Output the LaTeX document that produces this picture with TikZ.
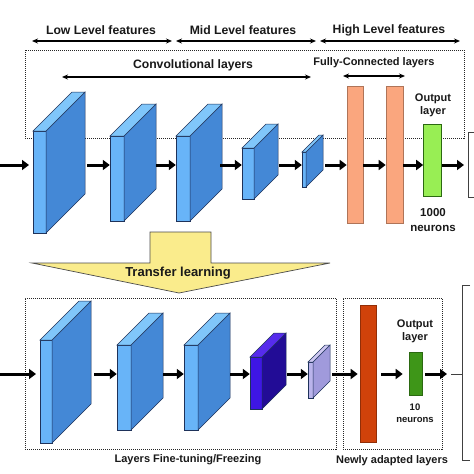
\documentclass[tikz,border=0pt]{standalone}
\usepackage{fontspec}
\setmainfont{Liberation Sans}
\usetikzlibrary{fit,calc,arrows.meta}
\definecolor{cfront}{RGB}{104,180,248}
\definecolor{cside}{RGB}{68,136,214}
\definecolor{ctop}{RGB}{128,198,250}
\definecolor{cedge}{RGB}{30,50,90}
\definecolor{pfront}{RGB}{62,22,228}
\definecolor{pside}{RGB}{34,12,150}
\definecolor{ptop}{RGB}{86,44,236}
\definecolor{lfront}{RGB}{186,180,236}
\definecolor{lside}{RGB}{160,154,220}
\definecolor{ltop}{RGB}{206,200,242}
\definecolor{fcorange}{RGB}{250,166,126}
\definecolor{outgreen}{RGB}{152,238,84}
\definecolor{redbar}{RGB}{208,66,10}
\definecolor{dkgreen}{RGB}{62,150,24}
\definecolor{tlyellow}{RGB}{250,236,140}
\tikzset{
  arr/.style={-{Triangle[length=7pt,width=10pt]},line width=3pt,black},
  dbl/.style={{Stealth[length=6pt,width=5pt]}-{Stealth[length=6pt,width=5pt]},line width=1.4pt,black},
  dotbox/.style={draw=black!85,line width=1pt,dash pattern=on 1pt off 1pt},
  lbl/.style={font=\bfseries\fontsize{12.2}{13}\selectfont,text=black!90,inner sep=0pt},
  slbl/.style={font=\bfseries\fontsize{11}{13}\selectfont,text=black!90,inner sep=0pt,align=center},
  bar/.style={draw=#1!70!black,line width=0.6pt,inner sep=0pt},
  brk/.style={draw=black!75,line width=0.8pt}
}
% cuboid: name, x1, x2, ytop, ybot, depth, front, side, top
\newcommand\mycub[9]{%
  \fill[#7,draw=cedge,line width=0.5pt] (#2,#4) rectangle (#3,#5);
  \fill[#8,draw=cedge,line width=0.5pt] (#3,#4) -- (#3+#6,#4-#6) -- (#3+#6,#5-#6) -- (#3,#5) -- cycle;
  \fill[#9,draw=cedge,line width=0.5pt] (#2,#4) -- (#2+#6,#4-#6) -- (#3+#6,#4-#6) -- (#3,#4) -- cycle;
  \node[inner sep=0pt,fit={(#2,#4-#6) (#3+#6,#5)}] (#1) {};
}
\begin{document}
\begin{tikzpicture}[x=1pt,y=-1pt]
\useasboundingbox[fill=white] (0,0) rectangle (474,474);

% ---------- top section ----------
\node[lbl] (low) at (101,30) {Low Level features};
\node[lbl] (mid) at (243,30) {Mid Level features};
\node[lbl] (high) at (389,30) {High Level features};
\coordinate (l1) at (32,41); \coordinate (l2) at (172,41);
\coordinate (m1) at (176,41); \coordinate (m2) at (316,41);
\coordinate (h1) at (320,41); \coordinate (h2) at (460,41);
\draw[dbl] (l1) -- (l2);
\draw[dbl] (m1) -- (m2);
\draw[dbl] (h1) -- (h2);

\node[dotbox,minimum width=439pt,minimum height=88pt,inner sep=0pt] (topbox) at (244.5,94) {};

\node[lbl] (conv) at (193,65) {Convolutional layers};
\coordinate (cv1) at (62,77); \coordinate (cv2) at (311,77);
\draw[dbl] (cv1) -- (cv2);
\node[slbl] (fcl) at (374,63) {Fully-Connected layers};
\coordinate (fc1) at (343,76); \coordinate (fc2) at (405,76);
\draw[dbl] (fc1) -- (fc2);

\mycub{t1}{33}{46}{131}{233}{39}{cfront}{cside}{ctop}
\mycub{t2}{110}{124}{136}{221}{32}{cfront}{cside}{ctop}
\mycub{t3}{176}{190}{136}{221}{32}{cfront}{cside}{ctop}
\mycub{t4}{242}{254}{148}{199}{24}{cfront}{cside}{ctop}
\mycub{t5}{302}{306}{152}{187}{17}{cfront}{cside}{ctop}

\node[bar=fcorange,fill=fcorange,minimum width=16pt,minimum height=137pt] (f1) at (355,154.5) {};
\node[bar=fcorange,fill=fcorange,minimum width=17pt,minimum height=137pt] (f2) at (394.5,154.5) {};
\node[bar=dkgreen,fill=outgreen,minimum width=18pt,minimum height=72pt] (o1) at (432.5,160) {};
\node[slbl] (outl1) at (433,105) {Output\\layer};
\node[lbl,align=center,font=\bfseries\fontsize{11.5}{15}\selectfont] (n1000) at (433,220) {1000\\neurons};

\coordinate (r1) at (0,165);
\coordinate (in1) at (0,165);
\coordinate (out1) at (464,165);
\draw[arr] (in1) -- (29,165);
\draw[arr] ($(t1.east|-r1)+(2,0)$) -- (t2.west|-r1);
\draw[arr] ($(t2.east|-r1)+(0,0)$) -- (t3.west|-r1);
\draw[arr] ($(t3.east|-r1)+(-2,0)$) -- (t4.west|-r1);
\draw[arr] ($(t4.east|-r1)+(1,0)$) -- (t5.west|-r1);
\draw[arr] ($(t5.east|-r1)+(2,0)$) -- (f1.west|-r1);
\draw[arr] (f1.east|-r1) -- (f2.west|-r1);
\draw[arr] (f2.east|-r1) -- (o1.west|-r1);
\draw[arr] (o1.east|-r1) -- (out1);
\draw[brk] (475,132) -- (468,132) -- (468,197) -- (475,197);

% ---------- transfer arrow ----------
\draw[fill=tlyellow,draw=black!70,line width=0.7pt]
  (150,232) -- (211,232) -- (211,263) -- (330,263) -- (179,293) -- (32,263) -- (150,263) -- cycle;
\node[lbl,font=\bfseries\fontsize{13}{15}\selectfont] (tl) at (178,273) {Transfer learning};

% ---------- bottom section ----------
\node[dotbox,minimum width=311pt,minimum height=151pt,inner sep=0pt] (lbox) at (180.5,373.5) {};
\node[dotbox,minimum width=99pt,minimum height=151pt,inner sep=0pt] (rbox) at (392.5,373.5) {};
\node[slbl] (ft) at (188,460) {Layers Fine-tuning/Freezing};
\node[slbl] (na) at (392,461) {Newly adapted layers};

\mycub{b1}{40}{52}{340}{443}{39}{cfront}{cside}{ctop}
\mycub{b2}{117}{131}{345}{430}{32}{cfront}{cside}{ctop}
\mycub{b3}{184}{198}{345}{430}{32}{cfront}{cside}{ctop}
\mycub{b4}{250}{262}{357}{409}{24}{pfront}{pside}{ptop}
\mycub{b5}{308}{313}{362}{398}{17}{lfront}{lside}{ltop}

\node[bar=redbar,fill=redbar,minimum width=16pt,minimum height=137pt] (rb) at (368,373.5) {};
\node[bar=dkgreen,fill=dkgreen,minimum width=13pt,minimum height=43pt] (o2) at (415.5,373.5) {};
\node[slbl] (outl2) at (415,331) {Output\\layer};
\node[lbl,align=center,font=\bfseries\fontsize{9.5}{12}\selectfont] (n10) at (415,413) {10\\neurons};

\coordinate (r2) at (0,374);
\coordinate (in2) at (0,374);
\coordinate (out2) at (447,374);
\draw[arr] (in2) -- (36,374);
\draw[arr] ($(b1.east|-r2)+(3,0)$) -- (b2.west|-r2);
\draw[arr] (b2.east|-r2) -- (b3.west|-r2);
\draw[arr] (b3.east|-r2) -- (b4.west|-r2);
\draw[arr] ($(b4.east|-r2)+(1,0)$) -- (b5.west|-r2);
\draw[arr] ($(b5.east|-r2)+(2,0)$) -- ($(rb.west|-r2)+(-2,0)$);
\draw[arr] ($(rb.east|-r2)+(5,0)$) -- ($(o2.west|-r2)+(-6,0)$);
\draw[arr] ($(o2.east|-r2)+(3,0)$) -- (out2);
\draw[brk] (451,374) -- (462,374);
\draw[brk] (470,285) -- (462,285) -- (462,460) -- (470,460);
\end{tikzpicture}
\end{document}
